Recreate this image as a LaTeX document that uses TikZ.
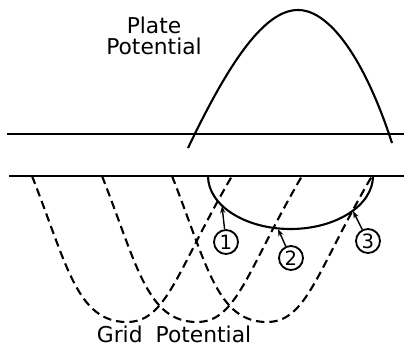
\documentclass[tikz,border=0pt]{standalone}
\usepackage{fontspec}
\setsansfont{DejaVu Sans}
\usetikzlibrary{arrows.meta}
\tikzset{
  refline/.style={line width=1.5pt},
  platecurve/.style={line width=1.5pt},
  gridcurve/.style={line width=1.5pt,dash pattern=on 6pt off 3.5pt},
  numcircle/.style={draw,circle,line width=1.3pt,minimum size=6mm,inner sep=0pt,font=\sffamily\fontsize{14}{14}\selectfont},
  pointer/.style={-{Stealth[length=1.8mm,width=1.3mm]},line width=1pt},
  caption/.style={font=\sffamily\fontsize{15.5}{15}\selectfont,align=center,inner sep=0pt},
}

\begin{document}
\begin{tikzpicture}[x=0.25mm,y=-0.25mm]
		\useasboundingbox (0,0) rectangle (404,347);
		% the two reference lines
		\draw[refline] (7,134)--(404,134);
		\draw[refline] (9,176)--(404,176);
		% plate swing
		\draw[platecurve] (188,148) .. controls (230,60) and (265,10) .. (298,10)
			.. controls (330,10) and (365,60) .. (392,143);
		% grid swings
		\foreach \c in {127,197,267}
			\draw[gridcurve] (\c-95,176) .. controls (\c-60,265) and (\c-50,322) .. (\c,322)
				.. controls (\c+40,322) and (\c+50,270) .. (\c+105,176);
		% plate current pulse
		\draw[platecurve] (208,176) arc[start angle=180,end angle=360,x radius=82.5,y radius=-53];
		\node[caption] (plate) at (154,36) {Plate\\Potential};
		\node[caption] (grid) at (174,334) {Grid\hspace{0.6em}Potential};
		\coordinate (p1) at (222,206);
		\coordinate (p2) at (278,229);
		\coordinate (p3) at (353,211);
		\node[numcircle] (n1) at (226,242) {1};
		\node[numcircle] (n2) at (291,258) {2};
		\node[numcircle] (n3) at (368,241) {3};
		\draw[pointer] (n1)--(p1); \draw[pointer] (n2)--(p2); \draw[pointer] (n3)--(p3);
	\end{tikzpicture}
\end{document}
